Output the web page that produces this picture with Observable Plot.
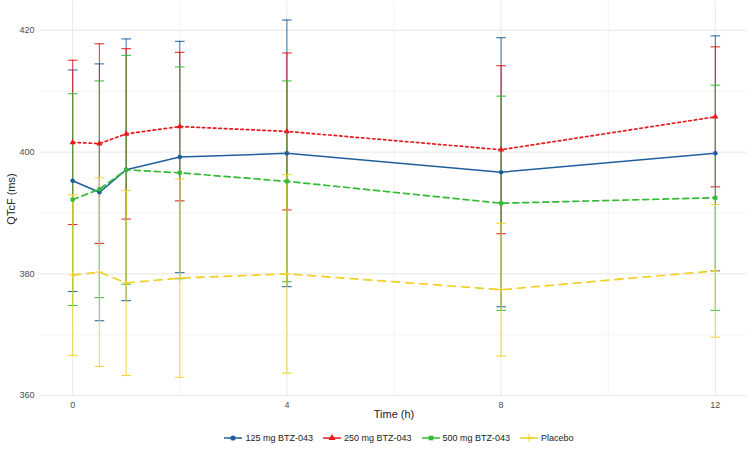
<!DOCTYPE html>
<html>
<head>
<meta charset="utf-8">
<script src="https://cdn.jsdelivr.net/npm/d3@7"></script>
<script src="https://cdn.jsdelivr.net/npm/@observablehq/plot@0.6"></script>
<style>
  body { margin: 0; background: #fff; font-family: "Liberation Sans", Arial, sans-serif; }
  #chart { width: 754px; height: 420px; }
  #legend { display: flex; justify-content: center; align-items: center; height: 35px; font-size: 9px; color: #222; padding-left: 44px; }
  .item { display: flex; align-items: center; margin: 0 5px; }
  .item svg { margin-right: 3px; }
</style>
</head>
<body>
<div id="chart"></div>
<div id="legend"></div>
<script>
// ---- data ----
const time = [0, 0.5, 1, 2, 4, 8, 12];
const seriesNames = ["125 mg BTZ-043", "250 mg BTZ-043", "500 mg BTZ-043", "Placebo"];
const mean125 = [395.3, 393.4, 397.1, 399.2, 399.8, 396.7, 399.8];
const err125  = [18.2, 21.1, 21.5, 19.0, 21.9, 22.1, 19.3];
const mean250 = [401.6, 401.4, 403.0, 404.2, 403.4, 400.4, 405.8];
const err250  = [13.5, 16.4, 14.0, 12.2, 12.9, 13.8, 11.5];
const mean500 = [392.2, 393.9, 397.1, 396.6, 395.2, 391.6, 392.5];
const err500  = [17.4, 17.8, 18.8, 17.4, 16.5, 17.6, 18.5];
const meanPbo = [379.8, 380.3, 378.5, 379.3, 380.0, 377.4, 380.5];
const errPbo  = [13.2, 15.5, 15.2, 16.3, 16.3, 10.9, 10.9];
const xTicks = [0, 4, 8, 12];
const yTicks = [360, 380, 400, 420];
const xMinor = [2, 6, 10];
const yMinor = [370, 390, 410];

// ---- styles ----
const colors = ["#1f5f9e", "#e41a1c", "#33bb33", "#f2cf25"];
const dashes = [null, "2.5,3", "6,4", "8,6"];
const symbols = ["circle", "triangle", "square", "plus"];

const means = [mean125, mean250, mean500, meanPbo];
const errs = [err125, err250, err500, errPbo];
const rows = [];
seriesNames.forEach((s, i) => {
  time.forEach((t, j) => {
    rows.push({series: s, idx: i, time: t, mean: means[i][j], lo: means[i][j] - errs[i][j], hi: means[i][j] + errs[i][j]});
  });
});

const capHalf = 0.09;
const marks = [
  Plot.gridY(yMinor, {stroke: "#ebebeb", strokeOpacity: 1, strokeWidth: 0.6}),
  Plot.gridX(xMinor, {stroke: "#ebebeb", strokeOpacity: 1, strokeWidth: 0.6}),
  Plot.gridY(yTicks, {stroke: "#ebebeb", strokeOpacity: 1, strokeWidth: 1.1}),
  Plot.gridX(xTicks, {stroke: "#ebebeb", strokeOpacity: 1, strokeWidth: 1.1}),
  Plot.axisX(xTicks, {tickSize: 0, tickPadding: 5, fontSize: 9, fill: "#4d4d4d", label: null}),
  Plot.axisY(yTicks, {tickSize: 0, tickPadding: 6, fontSize: 9, fill: "#4d4d4d", label: null}),
  Plot.axisX([], {tickSize: 0, fontSize: 11, fill: "#222", label: "Time (h)", labelAnchor: "center", labelArrow: "none", labelOffset: 21}),
  Plot.axisY([], {tickSize: 0, fontSize: 11, fill: "#222", label: "QTcF (ms)", labelAnchor: "center", labelArrow: "none", labelOffset: 33})
];
// error bars
seriesNames.forEach((s, i) => {
  const d = rows.filter(r => r.idx === i);
  marks.push(Plot.ruleX(d, {x: "time", y1: "lo", y2: "hi", stroke: colors[i], strokeWidth: 1.1, strokeOpacity: 0.8}));
  marks.push(Plot.link(d, {x1: r => r.time - capHalf, x2: r => r.time + capHalf, y1: "hi", y2: "hi", stroke: colors[i], strokeWidth: 1.1, strokeOpacity: 0.9}));
  marks.push(Plot.link(d, {x1: r => r.time - capHalf, x2: r => r.time + capHalf, y1: "lo", y2: "lo", stroke: colors[i], strokeWidth: 1.1, strokeOpacity: 0.9}));
});
// lines and points
seriesNames.forEach((s, i) => {
  const d = rows.filter(r => r.idx === i);
  marks.push(Plot.line(d, {x: "time", y: "mean", stroke: colors[i], strokeWidth: i === 0 ? 1.5 : 1.7, strokeDasharray: dashes[i]}));
  const filled = symbols[i] !== "plus";
  marks.push(Plot.dot(d, {x: "time", y: "mean", symbol: symbols[i], r: 2.3,
    fill: filled ? colors[i] : "none", stroke: filled ? "none" : colors[i], strokeWidth: 1}));
});

const chart = Plot.plot({
  width: 754,
  height: 420,
  marginLeft: 40,
  marginRight: 7,
  marginTop: 1,
  marginBottom: 24,
  style: {fontFamily: "Liberation Sans, Arial, sans-serif", color: "#222", overflow: "visible"},
  x: {domain: [-0.6, 12.6]},
  y: {domain: [359.85, 424.75]},
  marks
});
document.getElementById("chart").appendChild(chart);

// legend
const legend = document.getElementById("legend");
seriesNames.forEach((s, i) => {
  const item = document.createElement("div");
  item.className = "item";
  const sym = d3.symbol(d3["symbol" + symbols[i][0].toUpperCase() + symbols[i].slice(1)], Math.PI * 2.6 * 2.6)();
  const filled = symbols[i] !== "plus";
  item.innerHTML = `<svg width="18" height="12"><line x1="0" x2="18" y1="6" y2="6" stroke="${colors[i]}" stroke-width="1.5"/>` +
    `<path transform="translate(9,6)" d="${sym}" fill="${filled ? colors[i] : "none"}" stroke="${filled ? "none" : colors[i]}"/></svg><span>${s}</span>`;
  legend.appendChild(item);
});
</script>
</body>
</html>
